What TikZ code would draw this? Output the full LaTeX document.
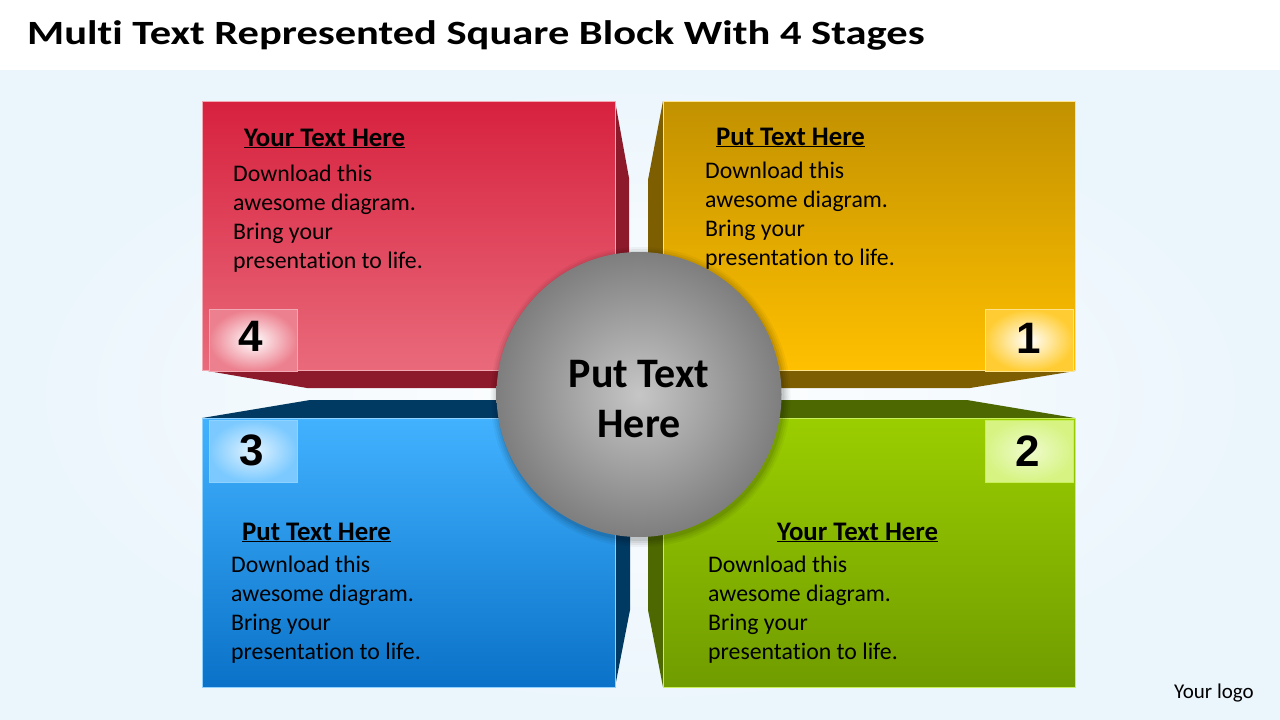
\documentclass[tikz,border=0pt]{standalone}
\usepackage{fontspec}
\usepackage{graphicx}
\setmainfont{Carlito}[Ligatures=NoCommon]
\newfontfamily\numfont{Liberation Sans}
\definecolor{bgblue}{HTML}{EAF5FC}
\definecolor{redtop}{HTML}{D7213E}
\definecolor{redbot}{HTML}{E96A7B}
\definecolor{reddark}{HTML}{8C1A2A}
\definecolor{redline}{HTML}{F3A9B3}
\definecolor{yeltop}{HTML}{C29100}
\definecolor{yelbot}{HTML}{FFC000}
\definecolor{yeldark}{HTML}{7D5E00}
\definecolor{yelline}{HTML}{FFE38A}
\definecolor{bluetop}{HTML}{42B2FF}
\definecolor{bluebot}{HTML}{0A72C8}
\definecolor{bluedark}{HTML}{003A63}
\definecolor{blueline}{HTML}{8FD2FF}
\definecolor{greentop}{HTML}{9BCE00}
\definecolor{greenbot}{HTML}{709C00}
\definecolor{greendark}{HTML}{4D6800}
\definecolor{greenline}{HTML}{C9F05A}
\definecolor{graymid}{HTML}{C6C6C6}
\definecolor{grayedge}{HTML}{7E7E7E}
\tikzset{
  front/.style={line width=1pt},
  numbox/.style={rectangle, minimum width=88pt, minimum height=62pt, inner sep=0pt, line width=0.8pt},
  digit/.style={font=\numfont\bfseries\fontsize{44}{44}\selectfont, inner sep=0pt, anchor=base},
  heading/.style={font=\bfseries\fontsize{26.8}{30}\selectfont, inner sep=0pt, anchor=base west},
  bodyline/.style={font=\fontsize{23.8}{29}\selectfont, inner sep=0pt, anchor=base west},
  hubtext/.style={anchor=base, inner sep=0pt, font=\bfseries\fontsize{42}{50}\selectfont},
}
\newcommand\ulhead[1]{\underline{#1}}
\newcommand\bodyblock[3]{% name, x, first baseline
  \foreach \t [count=\i from 0] in {Download this, awesome diagram., Bring your, presentation to life.}{
    \node[bodyline] (#1-\i) at (#2,#3+29*\i) {\t};
  }
}
\begin{document}
\begin{tikzpicture}[x=1pt,y=-1pt]
\useasboundingbox (0,0) rectangle (1280,720);
\fill[white] (0,0) rectangle (1280,720);
\shade[inner color=white, outer color=bgblue] (0,70) rectangle (1280,720);
\node[anchor=base west, inner sep=0pt, font=\bfseries\fontsize{34}{40}\selectfont] (title) at (27,44) {\scalebox{1.25}[1]{Multi Text Represented Square Block With 4 Stages}};

% red block (4)
\fill[reddark] (615,101) -- (629,178) -- (629,388) -- (307,388) -- (202,370) -- cycle;
\shade[front, top color=redtop, bottom color=redbot, draw=redline] (202,101) rectangle (615,370);
% yellow block (1)
\fill[yeldark] (663,101) -- (648,180) -- (648,388) -- (970,388) -- (1075,371) -- cycle;
\shade[front, top color=yeltop, bottom color=yelbot, draw=yelline] (663,101) rectangle (1075,370);
% blue block (3)
\fill[bluedark] (202,418) -- (310,400) -- (630,400) -- (630,610) -- (615,687) -- cycle;
\shade[front, top color=bluetop, bottom color=bluebot, draw=blueline] (202,418) rectangle (615,687);
% green block (2)
\fill[greendark] (1075,418) -- (967,400) -- (648,400) -- (648,610) -- (663,687) -- cycle;
\shade[front, top color=greentop, bottom color=greenbot, draw=greenline] (663,418) rectangle (1075,687);

% number boxes
\node[numbox, inner color=white, outer color=redbot!85!white, draw=redline] (box4) at (253,340.5) {};
\node[digit] (d4) at (251,351) {4};
\node[numbox, inner color=white, outer color=yelbot!80!white, draw=yelline] (box1) at (1029,340.5) {};
\node[digit] (d1) at (1029,353) {1};
\node[numbox, inner color=white!85!bluetop, outer color=bluetop!70!white, draw=blueline] (box3) at (253,451) {};
\node[digit] (d3) at (252,465) {3};
\node[numbox, inner color=white!70!greenline, outer color=greenline!75!white, draw=greenline] (box2) at (1029,451) {};
\node[digit] (d2) at (1028,466) {2};

% texts
\node[heading] (h4) at (244,146) {\ulhead{Your Text Here}};
\bodyblock{b4}{233}{181}
\node[heading] (h1) at (716,145) {\ulhead{Put Text Here}};
\bodyblock{b1}{705}{178.5}
\node[heading] (h3) at (242,540) {\ulhead{Put Text Here}};
\bodyblock{b3}{231}{572}
\node[heading] (h2) at (777,540) {\ulhead{Your Text Here}};
\bodyblock{b2}{708}{572}

% centre circle with soft shadow
\foreach \r/\o in {150/0.04,148/0.05,146/0.06,144/0.08}{
  \fill[black, opacity=\o] (640.5,397) circle (\r);
}
\node[circle, minimum size=285pt, inner sep=0pt, inner color=graymid, outer color=grayedge] (hub) at (639,394.5) {};
\node[hubtext] (hubt1) at (hub.center |- 0,387) {Put Text};
\node[hubtext] (hubt2) at (hub.center |- 0,437) {Here};

\node[anchor=base west, inner sep=0pt, font=\fontsize{21}{24}\selectfont] (logo) at (1174,698) {Your logo};
\end{tikzpicture}
\end{document}
